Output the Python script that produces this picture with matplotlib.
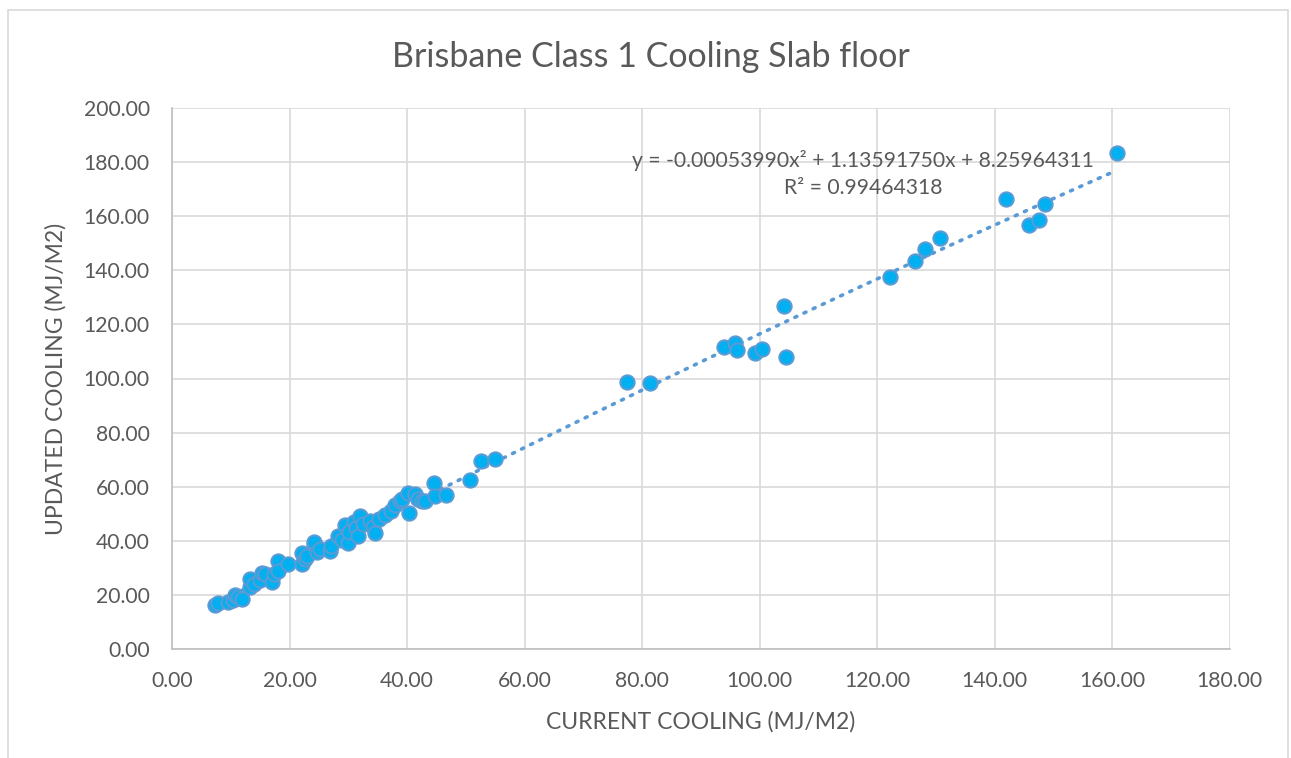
import matplotlib.pyplot as plt
import matplotlib.patches as mpatches
import numpy as np

plt.rcParams['font.family'] = ['Lato', 'DejaVu Sans']

# current cooling (x) and updated cooling (y), MJ/m2
current = [7.3, 7.8, 9.6, 10.4, 10.7, 11.2, 11.9, 13.3, 13.3, 14.0,
           15.0, 15.3, 15.9, 17.0, 17.3, 18.1, 18.0, 19.8, 22.1, 22.1,
           22.6, 23.0, 24.1, 24.1, 24.6, 25.2, 26.9, 27.0, 28.3, 29.0,
           29.4, 30.0, 30.2, 30.9, 31.4, 31.7, 32.0, 32.5, 33.7, 34.2,
           34.6, 35.2, 36.3, 37.2, 38.0, 38.8, 39.1, 40.2, 40.4, 41.4,
           41.8, 42.5, 43.0, 44.6, 44.8, 46.6, 50.7, 52.6, 54.9,
           77.5, 81.4, 94.0, 95.9, 96.1, 99.3, 100.5, 104.1, 104.5,
           122.2, 126.5, 128.1, 130.8, 141.9, 145.9, 147.5, 148.6, 160.8]
updated = [16.3, 16.9, 17.5, 18.1, 20.0, 19.3, 18.6, 23.1, 25.8, 24.2,
           25.6, 28.2, 27.6, 24.6, 27.9, 32.5, 29.0, 31.5, 31.3, 35.4,
           33.2, 34.5, 38.5, 39.7, 35.8, 37.0, 36.4, 38.2, 41.6, 40.2,
           46.0, 39.1, 43.4, 47.0, 44.7, 41.8, 49.0, 46.2, 47.2, 45.1,
           43.0, 48.0, 49.6, 51.0, 53.3, 54.6, 55.6, 57.5, 50.4, 57.2,
           55.4, 54.6, 54.8, 61.2, 56.7, 57.0, 62.6, 69.6, 70.1,
           98.6, 98.4, 111.8, 113.2, 110.5, 109.6, 111.0, 126.8, 107.8,
           137.5, 143.6, 147.9, 152.0, 166.5, 156.9, 158.7, 164.4, 183.2]

# trendline coefficients shown on the chart
coef = [-0.00053990, 1.13591750, 8.25964311]
r2 = 0.99464318

text_col = '#595959'

fig = plt.figure(figsize=(12.91, 7.58), dpi=100)
ax = fig.add_axes([172/1291, 1 - 649/758, (1229.5 - 172)/1291, (649 - 108)/758])

# chart border
fig.patches.append(mpatches.Rectangle((8/1291, -0.05), 1280/1291, 1.05 - 10/758,
                                      transform=fig.transFigure, fill=False,
                                      edgecolor='#D9D9D9', linewidth=1.2))

xs = np.linspace(min(current), max(current), 200)
ax.plot(xs, np.polyval(coef, xs), linestyle=(0, (0.6, 2.2)), color='#5B9BD5',
        linewidth=2.6, dash_capstyle='round', zorder=2)
ax.scatter(current, updated, s=105, facecolor='#00B0F0', edgecolor='#5B9BD5',
           linewidth=1.5, zorder=3)

ax.set_xlim(0, 180)
ax.set_ylim(0, 200)
ax.set_xticks(np.arange(0, 181, 20))
ax.set_yticks(np.arange(0, 201, 20))
ax.xaxis.set_major_formatter(lambda v, p: f'{v:.2f}')
ax.yaxis.set_major_formatter(lambda v, p: f'{v:.2f}')
ax.grid(True, color='#D9D9D9', linewidth=1.2)
ax.set_axisbelow(True)
ax.tick_params(length=0, labelsize=15.2, labelcolor=text_col)
ax.tick_params(axis='x', pad=16)
ax.tick_params(axis='y', pad=16)
for s in ['top', 'right']:
    ax.spines[s].set_visible(False)
for s in ['left', 'bottom']:
    ax.spines[s].set_color('#BFBFBF')
    ax.spines[s].set_linewidth(1.2)

ax.set_xlabel('CURRENT COOLING (MJ/M2)', fontsize=16.5, color=text_col, labelpad=14)
ax.set_ylabel('UPDATED COOLING (MJ/M2)', fontsize=16.5, color=text_col, labelpad=12)
fig.text(651/1291, 1 - 57/758, 'Brisbane Class 1 Cooling Slab floor', fontsize=24.5,
         color=text_col, ha='center', va='center')

eq = (f'y = {coef[0]:.8f}x\u00b2 + {coef[1]:.8f}x + {coef[2]:.8f}\n'
      f'R\u00b2 = {r2:.8f}')
fig.text(863/1291, 1 - 174/758, eq, fontsize=15.2, color=text_col,
         ha='center', va='center', linespacing=1.4)

fig.savefig('out.png', dpi=100)
